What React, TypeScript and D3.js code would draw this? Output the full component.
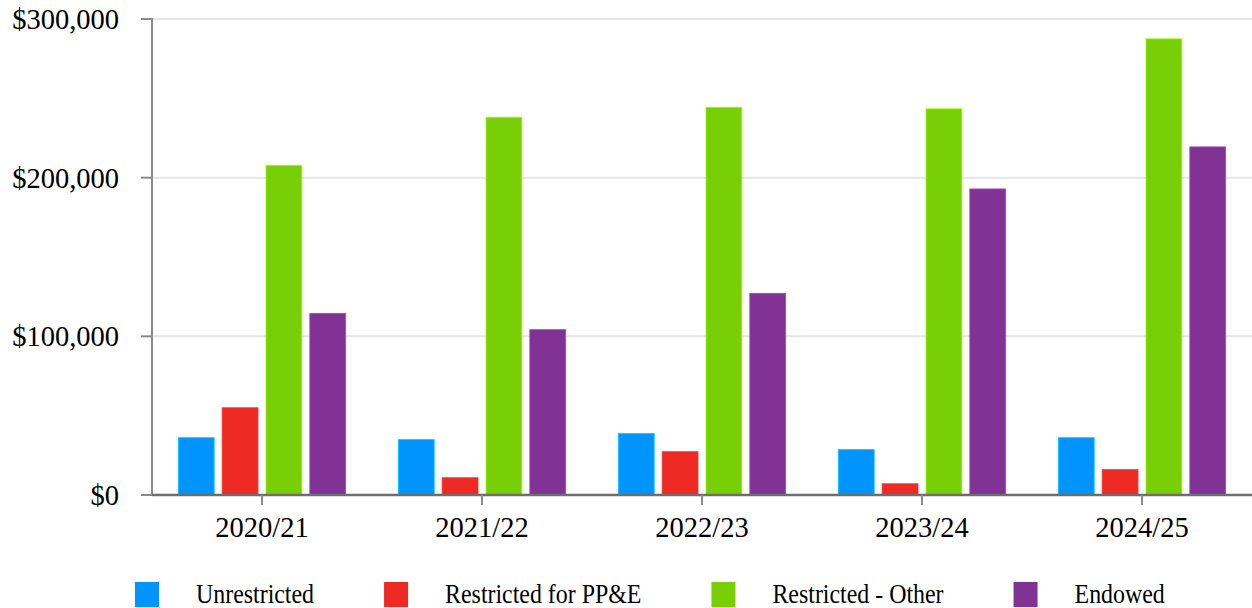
import { useRef, useEffect } from 'react';
import * as d3 from 'd3';

const categories = ['2020/21', '2021/22', '2022/23', '2023/24', '2024/25'];
const seriesNames = ['Unrestricted', 'Restricted for PP&E', 'Restricted - Other', 'Endowed'];
const seriesColors = ['#0094ff', '#ee2a24', '#79cf05', '#813295'];
const unrestricted = [36100, 34900, 38700, 28600, 36100];
const restrictedPPE = [55000, 10900, 27300, 7100, 16000];
const restrictedOther = [207800, 238100, 244400, 243400, 287500];
const endowed = [114500, 104200, 127100, 192900, 219400];
const yTicks = [0, 100000, 200000, 300000];

const App = () => {
    const svgRef = useRef<SVGSVGElement>(null);

    useEffect(() => {
        const w = 1252;
        const h = 608;
        const left = 152;
        const right = 1252;
        const top = 19;
        const bottom = 495;
        const font = '"Liberation Serif", "Times New Roman", serif';

        const svg = d3.select(svgRef.current)
            .attr('width', w)
            .attr('height', h);
        svg.selectAll('*').remove();

        const values = [unrestricted, restrictedPPE, restrictedOther, endowed];

        //scales
        const x0 = d3.scaleBand().domain(categories).range([left, right]);
        const x1 = d3.scaleBand()
            .domain(seriesNames)
            .range([0, x0.bandwidth()])
            .paddingInner(8 / 44)
            .paddingOuter(0.6);
        const y = d3.scaleLinear().domain([0, 300000]).range([bottom, top]);
        const fmt = (v: number) => '$' + d3.format(',')(v);

        //gridlines
        svg.append('g')
            .selectAll('line')
            .data(yTicks.filter(t => t > 0))
            .enter()
            .append('line')
            .attr('x1', left)
            .attr('x2', right)
            .attr('y1', d => y(d))
            .attr('y2', d => y(d))
            .attr('stroke', '#e6e6e6')
            .attr('stroke-width', 2);

        //y axis
        const yAxis = svg.append('g');
        yAxis.append('line')
            .attr('x1', left).attr('x2', left)
            .attr('y1', top - 1).attr('y2', bottom)
            .attr('stroke', '#8a8a8a').attr('stroke-width', 2);
        const yt = yAxis.selectAll('g.tick')
            .data(yTicks)
            .enter()
            .append('g')
            .attr('class', 'tick')
            .attr('transform', d => `translate(0, ${y(d)})`);
        yt.append('line')
            .attr('x1', left - 11).attr('x2', left)
            .attr('stroke', '#8a8a8a').attr('stroke-width', 2);
        yt.append('text')
            .attr('x', 119)
            .attr('dy', 10)
            .attr('text-anchor', 'end')
            .style('font-family', font)
            .style('font-size', '28.5px')
            .attr('fill', '#000')
            .text(d => fmt(d));

        //bars
        const groups = svg.append('g')
            .selectAll('g')
            .data(categories)
            .enter()
            .append('g')
            .attr('transform', d => `translate(${x0(d)}, 0)`);
        groups.selectAll('rect')
            .data((_, i) => seriesNames.map((s, k) => ({ s, k, v: values[k][i] })))
            .enter()
            .append('rect')
            .attr('x', d => x1(d.s)!)
            .attr('y', d => y(d.v))
            .attr('width', x1.bandwidth())
            .attr('height', d => bottom - y(d.v))
            .attr('fill', d => seriesColors[d.k])
            .attr('stroke', d => d3.color(seriesColors[d.k])!.brighter(0.8).toString())
            .attr('stroke-width', 0.8);

        //x axis
        const xAxis = svg.append('g');
        xAxis.append('line')
            .attr('x1', left).attr('x2', right)
            .attr('y1', bottom).attr('y2', bottom)
            .attr('stroke', '#6e6e6e').attr('stroke-width', 2.5);
        const xt = xAxis.selectAll('g.tick')
            .data(categories)
            .enter()
            .append('g')
            .attr('transform', d => `translate(${x0(d)! + x0.bandwidth() / 2}, ${bottom})`);
        xt.append('line')
            .attr('y1', 0).attr('y2', 10)
            .attr('stroke', '#8a8a8a').attr('stroke-width', 2);
        xt.append('text')
            .attr('y', 42)
            .attr('text-anchor', 'middle')
            .style('font-family', font)
            .style('font-size', '28.5px')
            .attr('fill', '#000')
            .text(d => d);

        //legend
        const legend = svg.append('g');
        const sx = 0.885;
        let lx = 135;
        seriesNames.forEach((name, k) => {
            legend.append('rect')
                .attr('x', lx).attr('y', 582)
                .attr('width', 24).attr('height', 25)
                .attr('fill', seriesColors[k]);
            const t = legend.append('text')
                .attr('transform', `translate(${lx + 61}, 603) scale(${sx}, 1)`)
                .style('font-family', font)
                .style('font-size', '27px')
                .attr('fill', '#000')
                .text(name);
            const tw = (t.node() as SVGTextElement).getComputedTextLength() * sx;
            lx += 61 + tw + 70;
        });
    }, []);

    return (
        <div>
            <svg ref={svgRef} style={{ position: 'absolute', left: 0, top: 0, display: 'block' }}></svg>
        </div>
    );
};

export default App;
